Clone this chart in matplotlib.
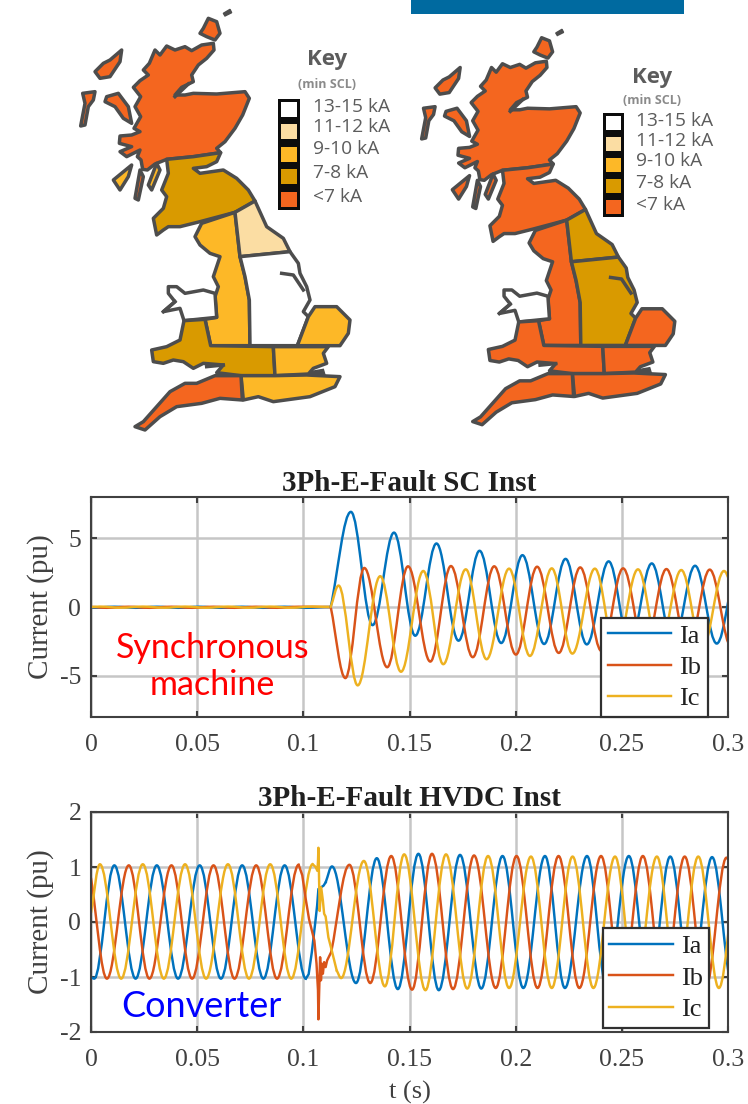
import matplotlib
matplotlib.use("Agg")
from matplotlib import pylab as plt
from matplotlib.lines import Line2D
from matplotlib.patches import PathPatch, Polygon, Rectangle
from matplotlib.path import Path

plt.rcParams['axes.unicode_minus'] = False

W, H = 748, 1104

# ---- map data: outlines are in the pixels of a 3x crop of the left map
SCOT_N = [(285,150),(300,165),(320,138),(345,150),(375,140),(395,152),(425,135),(460,130),(462,150),(440,175),(415,195),
          (395,225),(400,245),(365,262),(345,285),(375,285),(400,280),(470,282),(555,275),(568,295),(548,345),
          (525,385),(495,425),(470,445),(482,458),(400,470),(320,478),(285,492),(262,510),(248,508),(243,480),
          (232,470),(240,450),(200,470),(180,455),(215,440),(178,430),(180,408),(215,405),(240,395),(222,385),
          (242,350),(225,320),(242,290),(220,262),(240,242),(265,225),(250,210),(268,190)]
SKYE = [(140,290),(175,280),(205,320),(215,370),(190,355),(165,320),(135,305)]
LEWIS = [(105,215),(130,190),(150,180),(185,150),(180,185),(150,230),(120,235)]
UIST = [(68,280),(105,275),(100,300),(85,320),(75,375),(62,378),(75,310)]
ORKNEY = [(430,85),(445,55),(470,65),(480,100),(465,120),(440,110),(420,100)]
ARGYLL = [(160,540),(215,495),(205,530),(180,570)]
KINTYRE = [(235,600),(225,595),(240,510),(250,530)]
ARRAN = [(265,555),(290,490),(300,510),(275,570)]
SCOT_S = [(320,478),(400,470),(482,458),(470,485),(440,500),(400,505),(420,520),(490,510),(530,535),(565,570),
          (585,603),(525,637),(420,665),(360,680),(325,680),(310,690),(290,705),(280,655),(310,625),(320,590),(305,570),(325,520)]
ENG_NW = [(525,637),(540,770),(555,830),(568,900),(570,1037),(452,1037),(435,958),(470,952),(465,890),(475,860),
          (460,830),(470,800),(480,770),(450,760),(420,735),(405,710),(425,670)]
ENG_NE = [(525,637),(585,603),(620,680),(670,715),(690,755),(540,770)]
ENG_MID = [(540,770),(690,755),(715,790),(720,820),(740,860),(750,900),(730,935),(745,950),(712,1037),(570,1037),
           (568,900),(555,830)]
ANGLIA = [(745,950),(765,920),(830,920),(870,960),(865,1000),(840,1037),(712,1037)]
WALES_N = [(325,860),(350,860),(375,880),(430,870),(465,880),(470,952),(372,962),(360,925),(310,935),(345,905),(325,880)]
WALES_S = [(372,962),(435,958),(452,1037),(640,1040),(645,1127),(543,1127),(470,1118),(490,1095),(430,1090),(400,1105),
           (370,1085),(340,1080),(310,1090),(280,1085),(275,1050),(320,1040),(360,1020)]
ESSEX = [(640,1040),(805,1040),(790,1060),(800,1090),(760,1105),(745,1122),(645,1127)]
SOUTH = [(543,1127),(645,1127),(740,1125),(840,1130),(825,1160),(750,1190),(640,1205),(595,1190),(550,1200)]
SW = [(465,1127),(543,1127),(547,1200),(480,1195),(425,1210),(350,1220),(300,1250),(255,1290),(225,1280),(250,1265),
      (290,1220),(330,1175),(375,1150),(410,1150)]
SHETLAND = [(490,40),(510,28),(515,38),(495,48)]
THAMES = [(750,1115),(790,1108),(795,1125),(750,1125)]
DARK_LINES = [[(665,820),(700,825),(730,870)], [(345,290),(385,252)], [(310,935),(345,905)], [(440,1100),(490,1095)]]

REGIONS = [SCOT_N, SKYE, LEWIS, UIST, ORKNEY, ARGYLL, KINTYRE, ARRAN, SCOT_S, ENG_NW, ENG_NE, ENG_MID, ANGLIA,
           WALES_N, WALES_S, ESSEX, SOUTH, SW]
# key index of each region, same order as REGIONS
LEFT_LEVELS = [4, 4, 4, 4, 4, 2, 4, 2, 3, 2, 1, 0, 2, 0, 3, 2, 2, 4]
RIGHT_LEVELS = [4, 4, 4, 4, 4, 4, 4, 4, 4, 4, 3, 3, 4, 0, 4, 4, 4, 4]

KEY_LABELS = ["13-15 kA", "11-12 kA", "9-10 kA", "7-8 kA", "<7 kA"]
KEY_COLORS = ["#ffffff", "#fbdda3", "#fdb827", "#d99a00", "#f4661f"]

# ---- SC plot: extremes of each phase
sc_pre_ta = [0, 0.011, 0.021, 0.031, 0.041, 0.051, 0.061, 0.071, 0.081, 0.091, 0.101, 0.1129]
sc_pre_a = [-0.06, 0.02, -0.06, 0.02, -0.06, 0.02, -0.06, 0.02, -0.06, 0.02, -0.06, 0.0]
sc_pre_tb = [0, 0.0075, 0.0178, 0.0275, 0.0379, 0.0476, 0.0577, 0.0676, 0.0778, 0.0876, 0.0978, 0.1129]
sc_pre_b = [0.0, -0.06, 0.02, -0.06, 0.02, -0.06, 0.02, -0.06, 0.02, -0.06, 0.02, 0.0]
sc_pre_tc = [0, 0.0042, 0.0142, 0.0244, 0.0343, 0.0443, 0.0542, 0.0645, 0.0744, 0.0844, 0.0943, 0.1044, 0.1129]
sc_pre_c = [0.0, 0.03, -0.05, 0.03, -0.05, 0.03, -0.05, 0.03, -0.05, 0.03, -0.05, 0.03, 0.0]

sc_ta = [0.1129, 0.1224, 0.1326, 0.1427, 0.1527, 0.1627, 0.1731, 0.183, 0.1932, 0.2032, 0.2134, 0.2235, 0.2335,
         0.2438, 0.2537, 0.2641, 0.2741, 0.2845, 0.2947, 0.3049]
sc_a = [0.0, 6.92, -1.32, 5.41, -2.09, 4.62, -2.45, 4.09, -2.62, 3.77, -2.69, 3.5, -2.72, 3.32, -2.7, 3.17, -2.7,
        3.0, -2.66, 2.95]
sc_tb = [0.1129, 0.1198, 0.1287, 0.1395, 0.1493, 0.1598, 0.1695, 0.1798, 0.1899, 0.2001, 0.2101, 0.2203, 0.2304,
         0.2404, 0.2506, 0.2608, 0.271, 0.2812, 0.2914, 0.3016]
sc_b = [0.0, -5.17, 2.84, -4.38, 2.96, -3.97, 2.98, -3.65, 2.96, -3.46, 2.93, -3.34, 2.88, -3.2, 2.81, -3.05, 2.76,
        -3.0, 2.72, -2.9]
sc_tc = [0.1129, 0.1166, 0.1256, 0.1362, 0.146, 0.1565, 0.1659, 0.1765, 0.1863, 0.1969, 0.2067, 0.217, 0.2267,
         0.2373, 0.2471, 0.2576, 0.2675, 0.278, 0.2879, 0.2981, 0.3083]
sc_c = [0.0, 1.56, -5.7, 2.24, -4.71, 2.62, -4.16, 2.74, -3.8, 2.79, -3.56, 2.81, -3.39, 2.79, -3.25, 2.74, -3.1,
        2.69, -3.0, 2.62, -2.9]

# ---- HVDC plot: extremes before the fault, the burst point by point, extremes after
hv_pre_ta = [0, 0.0015, 0.011, 0.021, 0.031, 0.041, 0.0512, 0.0612, 0.0712, 0.0812, 0.0912, 0.1012]
hv_pre_a = [-1.0, -1.03, 1.03, -1.03, 1.03, -1.03, 1.03, -1.03, 1.03, -1.03, 1.03, -1.03]
hv_pre_tb = [0, 0.0075, 0.0178, 0.0275, 0.0379, 0.0476, 0.0577, 0.0676, 0.0778, 0.0876, 0.0978]
hv_pre_b = [0.8, -1.03, 1.03, -1.03, 1.03, -1.03, 1.03, -1.03, 1.03, -1.03, 1.04]
hv_pre_tc = [0, 0.0042, 0.0142, 0.0244, 0.0343, 0.0443, 0.0542, 0.0645, 0.0744, 0.0844, 0.0943, 0.1044]
hv_pre_c = [0.17, 1.05, -1.03, 1.05, -1.03, 1.05, -1.03, 1.05, -1.03, 1.05, -1.03, 1.05]

hv_burst_ta = [0.1012, 0.1025, 0.104, 0.1055, 0.1065, 0.1071, 0.1083, 0.1095, 0.1105]
hv_burst_a = [-1.03, -0.95, -0.55, -0.05, 0.3, 0.6, 0.63, 0.66, 0.72]
hv_burst_tb = [0.0978, 0.0995, 0.1012, 0.1027, 0.1052, 0.1062, 0.1069, 0.1071, 0.1075, 0.1079, 0.1083, 0.1088,
               0.1092, 0.1098, 0.1105, 0.1112, 0.1122, 0.1131]
hv_burst_b = [1.04, 0.85, 0.4, 0.05, -0.34, -0.75, -1.24, -1.77, -1.2, -0.64, -1.06, -0.76, -0.94, -0.73, -0.82,
              -0.7, -0.62, -0.55]
hv_burst_tc = [0.1044, 0.1058, 0.1066, 0.1069, 0.1071, 0.1074, 0.1077, 0.1084, 0.1092, 0.1098, 0.1105, 0.1118,
               0.1134, 0.1157]
hv_burst_c = [1.05, 1.0, 0.93, 1.1, 1.35, 0.8, 0.2, 0.63, 0.39, 0.15, 0.1, -0.28, -0.52, -0.88]

hv_ta = [0.1105, 0.1135, 0.1248, 0.1346, 0.1445, 0.1542, 0.1638, 0.1738, 0.1838, 0.1938, 0.2036, 0.2138, 0.2232,
         0.2336, 0.243, 0.2533, 0.263, 0.2728, 0.2825, 0.2925, 0.3024]
hv_a = [0.72, 1.01, -1.11, 1.16, -1.22, 1.24, -1.24, 1.22, -1.21, 1.2, -1.2, 1.2, -1.2, 1.2, -1.2, 1.2, -1.2, 1.19,
        -1.2, 1.18, -1.2]
hv_tb = [0.1131, 0.1217, 0.1315, 0.1414, 0.1512, 0.1606, 0.1705, 0.1804, 0.1906, 0.2004, 0.2103, 0.2202, 0.23,
         0.2402, 0.25, 0.2599, 0.2697, 0.2796, 0.2894, 0.2993, 0.309]
hv_b = [-0.55, 1.04, -1.11, 1.2, -1.23, 1.24, -1.22, 1.21, -1.2, 1.2, -1.2, 1.2, -1.2, 1.2, -1.2, 1.2, -1.2, 1.19,
        -1.2, 1.17, -1.2]
hv_tc = [0.1157, 0.1178, 0.1285, 0.1384, 0.1475, 0.1575, 0.1672, 0.1772, 0.187, 0.1969, 0.2072, 0.217, 0.2268,
         0.2366, 0.2468, 0.2563, 0.2665, 0.2761, 0.286, 0.2957, 0.3055]
hv_c = [-0.88, -1.02, 1.11, -1.17, 1.23, -1.24, 1.23, -1.21, 1.2, -1.2, 1.19, -1.2, 1.19, -1.2, 1.19, -1.2, 1.19,
        -1.2, 1.19, -1.2, 1.17]

x_ticks = [0, 0.05, 0.1, 0.15, 0.2, 0.25, 0.3]
x_labels = ["0", "0.05", "0.1", "0.15", "0.2", "0.25", "0.3"]
PHASES = ["Ia", "Ib", "Ic"]
PHASE_COLORS = ["#0072BD", "#D95319", "#EDB120"]

SERIF = "Liberation Serif"
DARK = "#404040"
GREY_TXT = "#5c5c5c"
EDGE = "#4d4d4d"
LINE_W = 1.75


def wave_path(times, values, sharp_start=False):
    # one bezier per half wave, flat at both extremes
    verts = [(times[0], values[0])]
    codes = [Path.MOVETO]
    for i in range(len(times) - 1):
        t0, t1 = times[i], times[i + 1]
        v0, v1 = values[i], values[i + 1]
        dt = t1 - t0
        first = (t0 + 0.3642 * dt, v0)
        if i == 0 and sharp_start:
            first = (t0 + 0.3642 * dt, v0 + 0.3642 * (v1 - v0))
        verts += [first, (t1 - 0.3642 * dt, v1), (t1, v1)]
        codes += [Path.CURVE4] * 3
    return Path(verts, codes)


def draw_wave(ax, times, values, color, sharp_start=False, lw=LINE_W):
    ax.add_patch(PathPatch(wave_path(times, values, sharp_start), fill=False, edgecolor=color, linewidth=lw,
                           capstyle="round", joinstyle="round"))


def px_axes(left, top, right, bottom):
    return plt.gcf().add_axes([left / W, 1 - bottom / H, (right - left) / W, (bottom - top) / H])


def style_plot(ax, ylim, yticks, ylabels, title, legend_right, legend_bottom):
    ax.set_xlim(0, 0.3)
    ax.set_ylim(*ylim)
    ax.set_xticks(x_ticks, x_labels)
    ax.set_yticks(yticks, ylabels)
    ax.grid(True, color="#c6c6c6", linewidth=1.8)
    ax.set_axisbelow(True)
    ax.tick_params(direction="in", top=True, right=True, length=4.5, width=1.5, color=DARK, labelcolor=DARK,
                   labelsize=18.5, pad=7)
    ax.tick_params(axis="x", pad=12)
    for lab in ax.get_xticklabels() + ax.get_yticklabels():
        lab.set_family(SERIF)
    for sp in ax.spines.values():
        sp.set_linewidth(1.5)
        sp.set_color(DARK)
    ax.set_title(title, family=SERIF, fontweight="bold", fontsize=21, pad=4.5, color="#202020")
    ax.set_ylabel("Current (pu)", family=SERIF, fontsize=21, color=DARK)
    ax.yaxis.set_label_coords(-0.058, 0.5)
    handles = [Line2D([], [], color=c, linewidth=LINE_W) for c in PHASE_COLORS]
    leg = ax.legend(handles, PHASES, loc="lower right", bbox_to_anchor=(legend_right, legend_bottom),
                    borderaxespad=0, fancybox=False, framealpha=1, edgecolor="#303030",
                    prop={"family": SERIF, "size": 19}, handlelength=2.4, handletextpad=0.3,
                    labelspacing=0.3, borderpad=0.25)
    leg.get_frame().set_linewidth(1.6)
    for txt in leg.get_texts():
        txt.set_color("#202020")


def draw_map(ax, levels):
    ax.set_xlim(0, 1020)
    ax.set_ylim(1320, 0)
    ax.axis("off")
    for outline, level in zip(REGIONS, levels):
        ax.add_patch(Polygon(outline, closed=True, facecolor=KEY_COLORS[level], edgecolor=EDGE, linewidth=2.5,
                             joinstyle="round"))
    ax.add_patch(Polygon(SHETLAND, closed=True, facecolor=EDGE, edgecolor=EDGE, linewidth=1))
    ax.add_patch(Polygon(THAMES, closed=True, facecolor=EDGE, edgecolor=EDGE, linewidth=1))
    for line in DARK_LINES:
        ax.plot([p[0] for p in line], [p[1] for p in line], color=EDGE, linewidth=2.5)


def draw_key(ax, sw_left, sw_right, sw_top, pitch, cell_h, text_x, text_y, title_x, title_y, sub_y):
    ax.add_patch(Rectangle((sw_left, sw_top), sw_right - sw_left, pitch * 5 - (pitch - cell_h) + 6,
                           facecolor="#0c0c0c", edgecolor="none"))
    for i, (lab, col) in enumerate(zip(KEY_LABELS, KEY_COLORS)):
        ax.add_patch(Rectangle((sw_left + 3, sw_top + 3 + i * pitch), sw_right - sw_left - 6, cell_h,
                               facecolor=col, edgecolor="none"))
        ax.text(text_x, text_y[i], lab, family="Open Sans", fontsize=13.8, color=GREY_TXT, ha="left", va="center")
    ax.text(title_x, title_y, "Key", family="Open Sans", fontweight="bold", fontsize=16, color=GREY_TXT,
            ha="center", va="center")
    ax.text(title_x, sub_y, "(min SCL)", family="Open Sans", fontweight="bold", fontsize=9, color="#8a8a8a",
            ha="center", va="center")


fig = plt.figure(figsize=(W / 100, H / 100), dpi=100)

# maps, each in its own axes placed by pixels
draw_map(px_axes(60, 0, 400, 440), LEFT_LEVELS)
draw_map(px_axes(402.2, 20.5, 721.8, 434.1), RIGHT_LEVELS)

# overlay in figure pixels for the bar and the two keys
pix = px_axes(0, 0, W, H)
pix.set_xlim(0, W)
pix.set_ylim(H, 0)
pix.axis("off")
pix.patch.set_alpha(0)
pix.add_patch(Rectangle((411, 0), 273, 14, facecolor="#006aa0", edgecolor="none"))
draw_key(pix, 278, 300, 98.5, 22.6, 15, 313, [107, 127, 149, 173, 197], 327, 60, 85)
draw_key(pix, 603, 624, 113, 20.9, 14, 636, [121, 141, 161, 183, 205], 652, 77, 101)

# synchronous machine
ax1 = px_axes(91, 497, 728, 717)
draw_wave(ax1, sc_pre_ta, sc_pre_a, PHASE_COLORS[0])
draw_wave(ax1, sc_pre_tb, sc_pre_b, PHASE_COLORS[1])
draw_wave(ax1, sc_pre_tc, sc_pre_c, PHASE_COLORS[2])
draw_wave(ax1, sc_ta, sc_a, PHASE_COLORS[0], sharp_start=True)
draw_wave(ax1, sc_tb, sc_b, PHASE_COLORS[1], sharp_start=True)
draw_wave(ax1, sc_tc, sc_c, PHASE_COLORS[2], sharp_start=True)
style_plot(ax1, (-8, 8), [-5, 0, 5], ["-5", "0", "5"], "3Ph-E-Fault SC Inst", 0.968, 0.0)
ax1.text(0.1905, 0.23, "Synchronous\nmachine", transform=ax1.transAxes, family="Lato", fontsize=24.5, color="#ff0000",
         ha="center", va="center", linespacing=1.2)

# converter
ax2 = px_axes(91, 812, 728, 1032)
for ts, vs, c in zip([hv_pre_ta, hv_pre_tb, hv_pre_tc], [hv_pre_a, hv_pre_b, hv_pre_c], PHASE_COLORS):
    draw_wave(ax2, ts, vs, c, sharp_start=True)
for ts, vs, c in zip([hv_burst_ta, hv_burst_tb, hv_burst_tc], [hv_burst_a, hv_burst_b, hv_burst_c], PHASE_COLORS):
    ax2.plot(ts, vs, color=c, linewidth=LINE_W, solid_joinstyle="round")
for ts, vs, c in zip([hv_ta, hv_tb, hv_tc], [hv_a, hv_b, hv_c], PHASE_COLORS):
    draw_wave(ax2, ts, vs, c, sharp_start=True)
style_plot(ax2, (-2, 2), [-2, -1, 0, 1, 2], ["-2", "-1", "0", "1", "2"], "3Ph-E-Fault HVDC Inst", 0.9706, 0.02)
ax2.set_xlabel("t (s)", family=SERIF, fontsize=19, color=DARK)
ax2.xaxis.set_label_coords(0.5, -0.222)
ax2.text(0.174, 0.115, "Converter", transform=ax2.transAxes, family="Lato", fontsize=25.9, color="#0000ff",
         ha="center", va="center")

fig.savefig("out.png", dpi=100)
